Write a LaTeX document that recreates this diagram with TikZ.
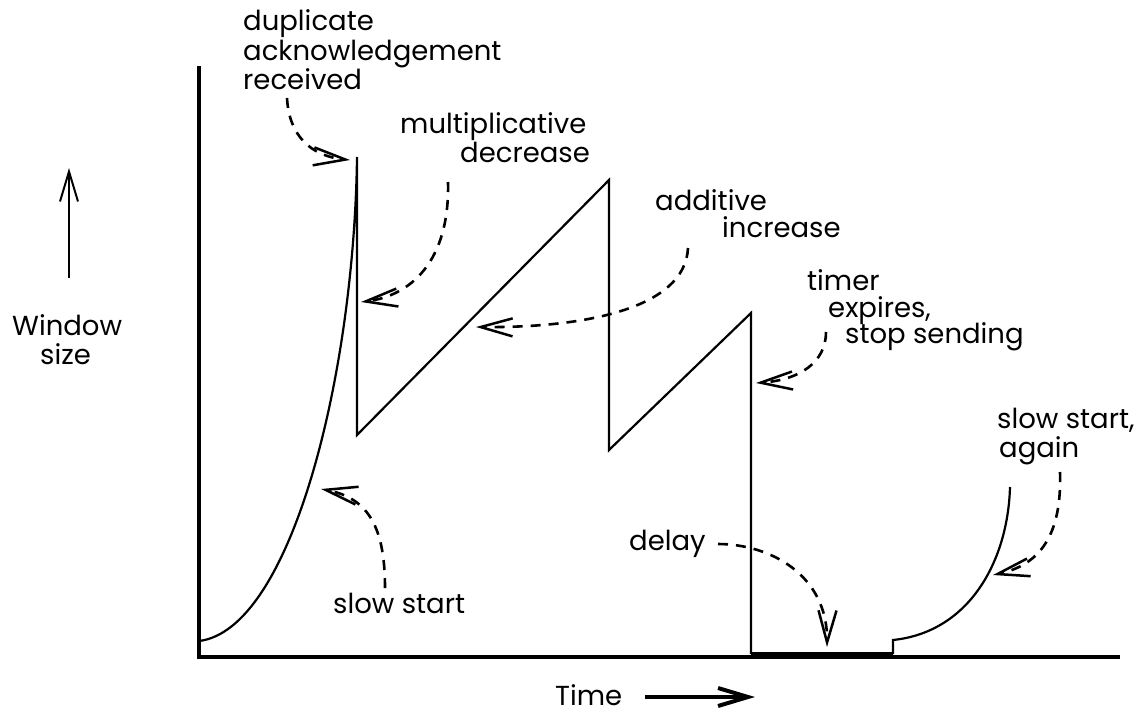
\documentclass[tikz,border=0pt]{standalone}
\usepackage{fontspec}
\setmainfont{Poppins}
\usetikzlibrary{arrows.meta}
\begin{document}
\begin{tikzpicture}[x=1pt,y=-1pt,
  lbl/.style={font=\fontsize{27.5}{29}\selectfont, inner sep=0pt, anchor=base west},
  axisline/.style={line width=3.6pt, line cap=rect},
  curve/.style={line width=2.2pt},
  pointer/.style={line width=2.6pt, dash pattern=on 10pt off 8pt,
    -{Straight Barb[length=32pt,width=18pt,line width=2.5pt]}},
  dirarrow/.style={-{Straight Barb[length=30pt,width=18pt]}}
]
\useasboundingbox (0,0) rectangle (1141,713);

% axes
\coordinate (origin) at (199,657);
\coordinate (ytop) at (199,68);
\coordinate (xend) at (1118,657);
\draw[axisline] (ytop) -- (origin) -- (xend);

% window size curve
\coordinate (s0) at (199,641);
\coordinate (p1) at (357,157);
\coordinate (p2) at (357,435);
\coordinate (p3) at (609,180);
\coordinate (p4) at (609,450);
\coordinate (p5) at (751,313);
\coordinate (p6) at (751,654);
\coordinate (p7) at (893,654);
\coordinate (p8) at (893,640);
\coordinate (p9) at (1010,487);
\draw[curve] (s0) .. controls (290,630) and (354,380) .. (p1)
  -- (p2) -- (p3) -- (p4) -- (p5) -- (p6);
\draw[line width=5pt] (p6) -- (p7);
\draw[curve] (p7) -- (p8) .. controls (970,632) and (1008,560) .. (p9);

% direction arrows
\coordinate (ya) at (69,278);
\coordinate (yb) at (69,168);
\draw[line width=2pt, dirarrow] (ya) -- (yb);
\coordinate (ta) at (645,697);
\coordinate (tb) at (755,697);
\draw[line width=4pt, dirarrow] (ta) -- (tb);

% labels
\node[lbl] (win1) at (12,335) {Window};
\node[lbl] (win2) at (40,364) {size};
\node[lbl] (time) at (555,705) {Time};
\node[lbl] (dup1) at (243,30) {duplicate};
\node[lbl] (dup2) at (243,60) {acknowledgement};
\node[lbl] (dup3) at (243,89) {received};
\node[lbl] (mul1) at (400,133) {multiplicative};
\node[lbl] (mul2) at (460,162) {decrease};
\node[lbl] (add1) at (655,210) {additive};
\node[lbl] (add2) at (722,237) {increase};
\node[lbl] (tim1) at (807,290) {timer};
\node[lbl] (tim2) at (828,317) {expires,};
\node[lbl] (tim3) at (845,343) {stop sending};
\node[lbl] (ssa1) at (997,428) {slow start,};
\node[lbl] (ssa2) at (999,457) {again};
\node[lbl] (dly) at (629,550) {delay};
\node[lbl] (ss) at (333,613) {slow start};

% pointers from labels to the curve
\coordinate (dupS) at (287,98);
\coordinate (dupT) at (350,160);
\draw[pointer] (dupS) .. controls (289,135) and (310,156) .. (dupT);
\coordinate (mulS) at (448,182);
\coordinate (mulT) at (361,302);
\draw[pointer] (mulS) .. controls (450,262) and (410,296) .. (mulT);
\coordinate (addS) at (688,248);
\coordinate (addT) at (476,327);
\draw[pointer] (addS) .. controls (685,310) and (580,328) .. (addT);
\coordinate (timS) at (826,332);
\coordinate (timT) at (756,383);
\draw[pointer] (timS) .. controls (826,362) and (800,380) .. (timT);
\coordinate (dlyS) at (718,544);
\coordinate (dlyT) at (827,647);
\draw[pointer] (dlyS) .. controls (770,544) and (828,575) .. (dlyT);
\coordinate (ssaS) at (1060,472);
\coordinate (ssaT) at (993,575);
\draw[pointer] (ssaS) .. controls (1062,535) and (1040,565) .. (ssaT);
\coordinate (ssS) at (385,588);
\coordinate (ssT) at (321,489);
\draw[pointer] (ssS) .. controls (385,530) and (370,498) .. (ssT);
\end{tikzpicture}
\end{document}
